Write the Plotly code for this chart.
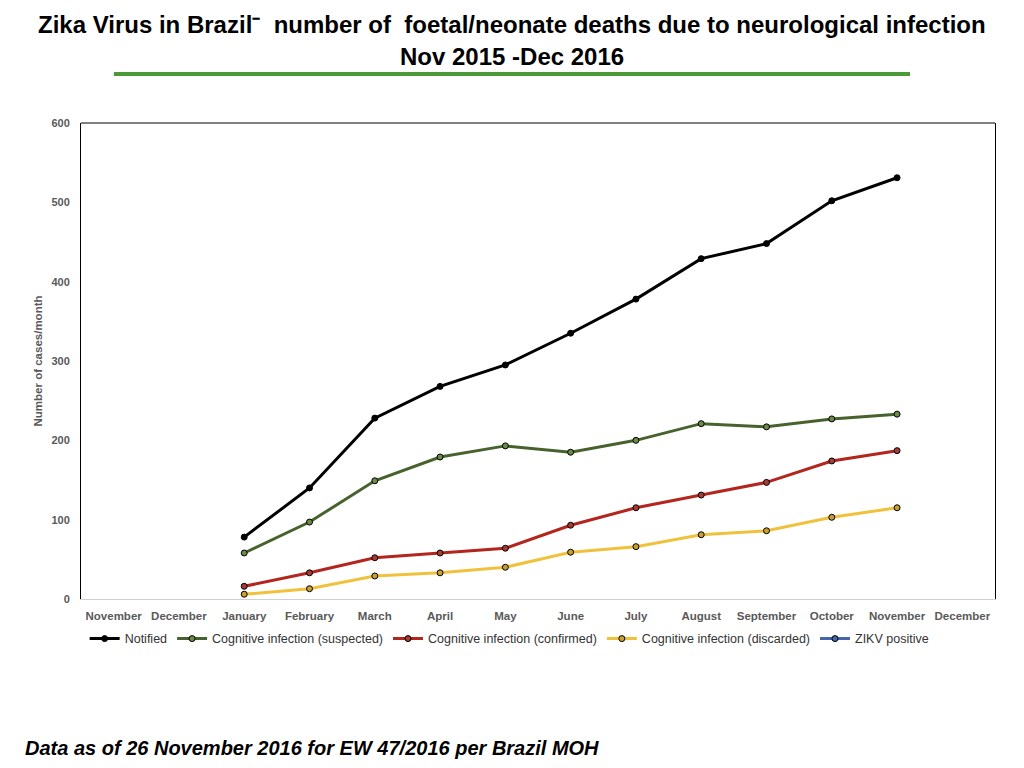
import plotly.graph_objects as go

months = ["November", "December", "January", "February", "March", "April", "May",
          "June", "July", "August", "September", "October", "November", "December"]

notified = [None, None, 78, 140, 228, 268, 295, 335, 378, 429, 448, 502, 531, None]
suspected = [None, None, 58, 97, 149, 179, 193, 185, 200, 221, 217, 227, 233, None]
confirmed = [None, None, 16, 33, 52, 58, 64, 93, 115, 131, 147, 174, 187, None]
discarded = [None, None, 6, 13, 29, 33, 40, 59, 66, 81, 86, 103, 115, None]
zikv_positive = [None] * 14

series = [
    ("Notified", notified, "#000000", "#000000"),
    ("Cognitive infection (suspected)", suspected, "#48622e", "#6b8a45"),
    ("Cognitive infection (confirmed)", confirmed, "#b3261e", "#a83a32"),
    ("Cognitive infection (discarded)", discarded, "#f0c23c", "#c9a030"),
    ("ZIKV positive", zikv_positive, "#4565ad", "#4565ad"),
]

x_idx = list(range(len(months)))

fig = go.Figure()

for name, vals, col, fill in series:
    fig.add_trace(go.Scatter(
        x=x_idx, y=vals, name=name, mode="lines+markers",
        line=dict(color=col, width=3),
        marker=dict(size=6, color=fill, line=dict(color="#000000", width=1)),
        connectgaps=False
    ))

grey = "#595959"

# the page body adds 8px, margins are set so the plot box lands where the reference has it
fig.update_layout(
    width=1024, height=768,
    paper_bgcolor="white", plot_bgcolor="white",
    margin=dict(l=73, r=37, t=115, b=177),
    font=dict(family="Liberation Sans", color=grey, size=11),
    showlegend=True,
    legend=dict(
        orientation="h", x=0.004, y=-0.084, xanchor="left", yanchor="middle",
        bgcolor="rgba(0,0,0,0)",
        font=dict(family="Liberation Sans", size=12.5, color="#333333"),
        itemwidth=30, tracegroupgap=0
    ),
    xaxis=dict(
        range=[-0.5, 13.5],
        tickmode="array", tickvals=x_idx, ticktext=months,
        tickfont=dict(family="Liberation Sans", size=11.5, color=grey, weight="bold"),
        showgrid=False, zeroline=False,
        showline=True, linecolor="#d0d0d0", linewidth=1,
        ticks="", ticklabelstandoff=6
    ),
    yaxis=dict(
        range=[0, 600], dtick=100,
        tickfont=dict(family="Liberation Sans", size=11, color=grey, weight="bold"),
        showgrid=False, zeroline=False,
        showline=True, linecolor="#000000", linewidth=1, mirror=True,
        ticks="", ticklabelstandoff=8,
        title=dict(text="Number of cases/month",
                   font=dict(family="Liberation Sans", size=11.5, color=grey, weight="bold"),
                   standoff=6)
    ),
)

# top border of the plot frame
fig.add_shape(type="line", xref="paper", yref="paper", x0=0, x1=1, y0=1, y1=1,
              line=dict(color="#000000", width=1))

# green rule under the title
fig.add_shape(type="line", xref="paper", yref="paper", x0=0.036, x1=0.907,
              y0=1.103, y1=1.103, line=dict(color="#4a9a35", width=4))

fig.add_annotation(
    text="Zika Virus in Brazil⁻  number of  foetal/neonate deaths due to neurological infection",
    xref="paper", yref="paper", x=0.4716, y=1.206, showarrow=False,
    xanchor="center", yanchor="middle",
    font=dict(family="Liberation Sans", size=24, color="#000000", weight="bold")
)
fig.add_annotation(
    text="Nov 2015 -Dec 2016",
    xref="paper", yref="paper", x=0.4716, y=1.139, showarrow=False,
    xanchor="center", yanchor="middle",
    font=dict(family="Liberation Sans", size=24, color="#000000", weight="bold")
)
fig.add_annotation(
    text="<b><i>Data as of 26 November 2016 for EW 47/2016 per Brazil MOH</i></b>",
    xref="paper", yref="paper", x=-0.064, y=-0.313, showarrow=False,
    xanchor="left", yanchor="middle",
    font=dict(family="Liberation Sans", size=20, color="#000000")
)

fig.write_html("out.html")
